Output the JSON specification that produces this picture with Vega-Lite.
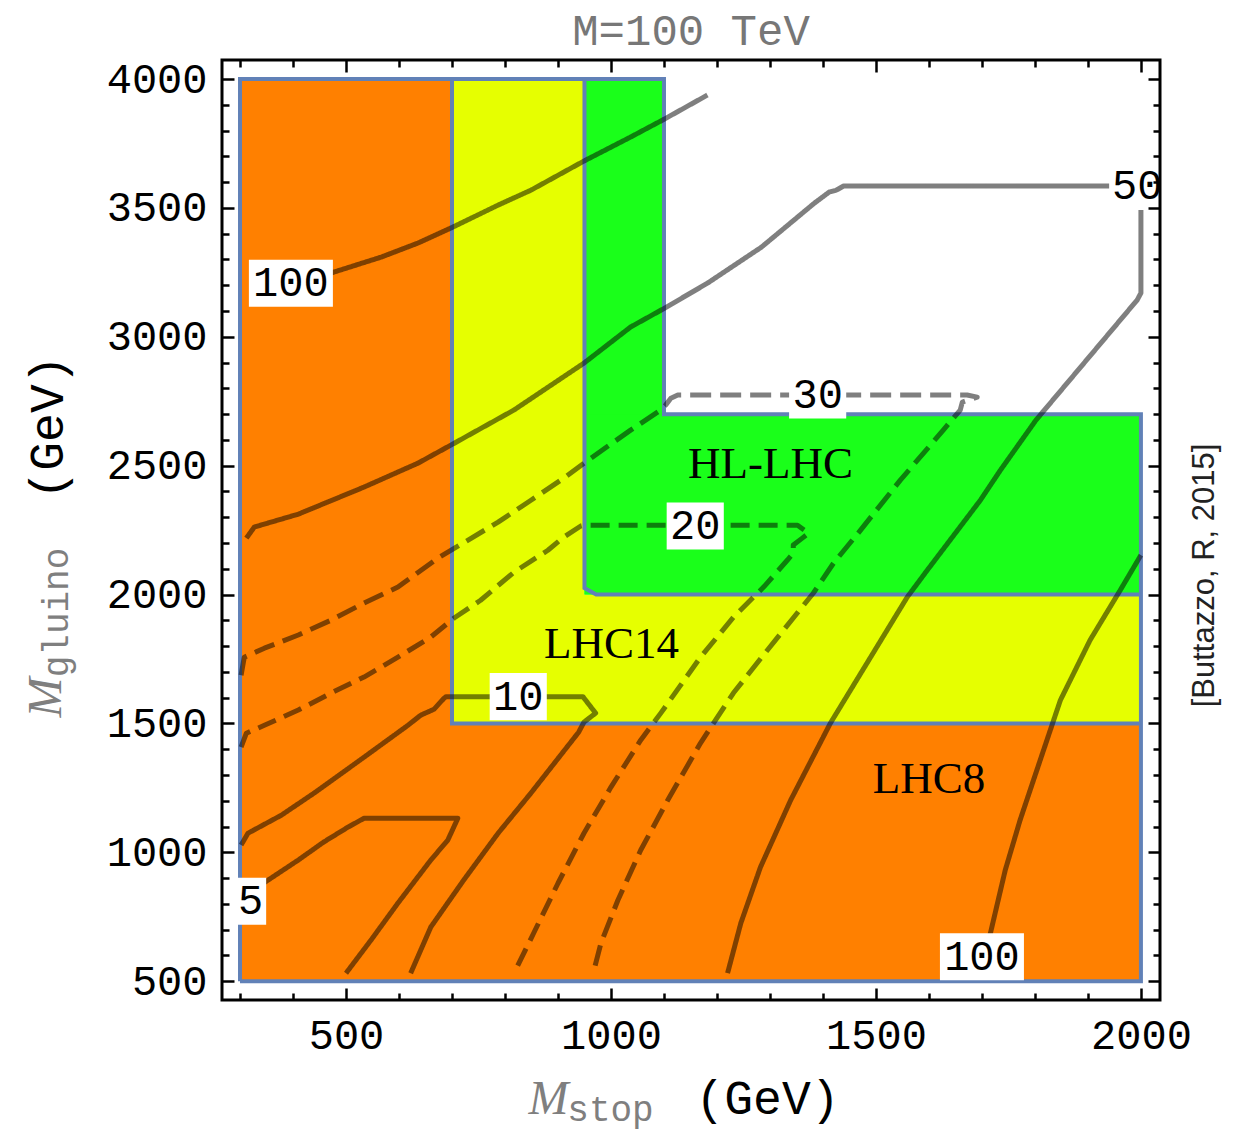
{
  "$schema": "https://vega.github.io/schema/vega-lite/v6.json",
  "width": 938,
  "height": 940,
  "autosize": {"type": "none"},
  "padding": {"left": 222, "top": 60, "right": 81, "bottom": 131},
  "background": "white",
  "title": {"text": "M=100 TeV", "font": "Liberation Mono", "fontSize": 44, "fontWeight": "normal", "color": "#777777", "anchor": "middle", "offset": 4},
  "config": {"view": {"stroke": "black", "strokeWidth": 3}},
  "datasets": {
    "regions": [
      {"r": "LHC8", "x": 300, "x2": 700, "y": 500, "y2": 4000},
      {"r": "LHC8", "x": 300, "x2": 2000, "y": 500, "y2": 1500},
      {"r": "LHC14", "x": 700, "x2": 950, "y": 1500, "y2": 4000},
      {"r": "LHC14", "x": 700, "x2": 2000, "y": 1500, "y2": 2000},
      {"r": "HL", "x": 950, "x2": 1100, "y": 2000, "y2": 4000},
      {"r": "HL", "x": 950, "x2": 2000, "y": 2000, "y2": 2700}
    ],
    "outlines": [
      {"s": "outer", "i": 1, "x": 300, "y": 500},
      {"s": "outer", "i": 2, "x": 300, "y": 4000},
      {"s": "outer", "i": 3, "x": 1100, "y": 4000},
      {"s": "outer", "i": 4, "x": 1100, "y": 2700},
      {"s": "outer", "i": 5, "x": 2000, "y": 2700},
      {"s": "outer", "i": 6, "x": 2000, "y": 500},
      {"s": "outer", "i": 7, "x": 300, "y": 500},
      {"s": "b1", "i": 1, "x": 700, "y": 4000},
      {"s": "b1", "i": 2, "x": 700, "y": 1500},
      {"s": "b1", "i": 3, "x": 2000, "y": 1500},
      {"s": "b2", "i": 1, "x": 950, "y": 4000},
      {"s": "b2", "i": 2, "x": 950, "y": 2025},
      {"s": "b2", "i": 3, "x": 972, "y": 2000},
      {"s": "b2", "i": 4, "x": 2000, "y": 2000}
    ],
    "contours": [
      {"s": "5", "d": "solid", "i": 1, "x": 344, "y": 880},
      {"s": "5", "d": "solid", "i": 2, "x": 410, "y": 970},
      {"s": "5", "d": "solid", "i": 3, "x": 458, "y": 1040},
      {"s": "5", "d": "solid", "i": 4, "x": 504, "y": 1098},
      {"s": "5", "d": "solid", "i": 5, "x": 534, "y": 1132},
      {"s": "5", "d": "solid", "i": 6, "x": 711, "y": 1132},
      {"s": "5", "d": "solid", "i": 7, "x": 692, "y": 1047},
      {"s": "5", "d": "solid", "i": 8, "x": 660, "y": 970},
      {"s": "5", "d": "solid", "i": 9, "x": 598, "y": 803},
      {"s": "5", "d": "solid", "i": 10, "x": 547, "y": 659},
      {"s": "5", "d": "solid", "i": 11, "x": 500, "y": 531},

      {"s": "10", "d": "solid", "i": 1, "x": 302, "y": 1028},
      {"s": "10", "d": "solid", "i": 2, "x": 315, "y": 1074},
      {"s": "10", "d": "solid", "i": 3, "x": 378, "y": 1144},
      {"s": "10", "d": "solid", "i": 4, "x": 440, "y": 1230},
      {"s": "10", "d": "solid", "i": 5, "x": 534, "y": 1369},
      {"s": "10", "d": "solid", "i": 6, "x": 617, "y": 1493},
      {"s": "10", "d": "solid", "i": 7, "x": 641, "y": 1532},
      {"s": "10", "d": "solid", "i": 8, "x": 666, "y": 1555},
      {"s": "10", "d": "solid", "i": 9, "x": 685, "y": 1598},
      {"s": "10", "d": "solid", "i": 10, "x": 689, "y": 1604},
      {"s": "10", "d": "solid", "i": 11, "x": 947, "y": 1604},
      {"s": "10", "d": "solid", "i": 12, "x": 971, "y": 1540},
      {"s": "10", "d": "solid", "i": 13, "x": 949, "y": 1505},
      {"s": "10", "d": "solid", "i": 14, "x": 939, "y": 1466},
      {"s": "10", "d": "solid", "i": 15, "x": 902, "y": 1369},
      {"s": "10", "d": "solid", "i": 16, "x": 849, "y": 1230},
      {"s": "10", "d": "solid", "i": 17, "x": 787, "y": 1074},
      {"s": "10", "d": "solid", "i": 18, "x": 722, "y": 892},
      {"s": "10", "d": "solid", "i": 19, "x": 660, "y": 710},
      {"s": "10", "d": "solid", "i": 20, "x": 622, "y": 531},

      {"s": "20", "d": "dash20", "i": 1, "x": 302, "y": 1408},
      {"s": "20", "d": "dash20", "i": 2, "x": 312, "y": 1462},
      {"s": "20", "d": "dash20", "i": 3, "x": 346, "y": 1493},
      {"s": "20", "d": "dash20", "i": 4, "x": 410, "y": 1552},
      {"s": "20", "d": "dash20", "i": 5, "x": 472, "y": 1618},
      {"s": "20", "d": "dash20", "i": 6, "x": 534, "y": 1680},
      {"s": "20", "d": "dash20", "i": 7, "x": 598, "y": 1757},
      {"s": "20", "d": "dash20", "i": 8, "x": 660, "y": 1835},
      {"s": "20", "d": "dash20", "i": 9, "x": 704, "y": 1909},
      {"s": "20", "d": "dash20", "i": 10, "x": 754, "y": 1978},
      {"s": "20", "d": "dash20", "i": 11, "x": 817, "y": 2087},
      {"s": "20", "d": "dash20", "i": 12, "x": 881, "y": 2172},
      {"s": "20", "d": "dash20", "i": 13, "x": 911, "y": 2223},
      {"s": "20", "d": "dash20", "i": 14, "x": 943, "y": 2266},
      {"s": "20", "d": "dash20", "i": 15, "x": 949, "y": 2269},
      {"s": "20", "d": "dash20", "i": 16, "x": 1352, "y": 2269},
      {"s": "20", "d": "dash20", "i": 17, "x": 1373, "y": 2238},
      {"s": "20", "d": "dash20", "i": 18, "x": 1361, "y": 2219},
      {"s": "20", "d": "dash20", "i": 19, "x": 1344, "y": 2192},
      {"s": "20", "d": "dash20", "i": 20, "x": 1344, "y": 2161},
      {"s": "20", "d": "dash20", "i": 21, "x": 1333, "y": 2134},
      {"s": "20", "d": "dash20", "i": 22, "x": 1288, "y": 2029},
      {"s": "20", "d": "dash20", "i": 23, "x": 1231, "y": 1912},
      {"s": "20", "d": "dash20", "i": 24, "x": 1169, "y": 1757},
      {"s": "20", "d": "dash20", "i": 25, "x": 1094, "y": 1540},
      {"s": "20", "d": "dash20", "i": 26, "x": 1056, "y": 1435},
      {"s": "20", "d": "dash20", "i": 27, "x": 1000, "y": 1253},
      {"s": "20", "d": "dash20", "i": 28, "x": 949, "y": 1074},
      {"s": "20", "d": "dash20", "i": 29, "x": 900, "y": 880},
      {"s": "20", "d": "dash20", "i": 30, "x": 854, "y": 686},
      {"s": "20", "d": "dash20", "i": 31, "x": 817, "y": 531},

      {"s": "30", "d": "dash30", "i": 1, "x": 302, "y": 1687},
      {"s": "30", "d": "dash30", "i": 2, "x": 308, "y": 1757},
      {"s": "30", "d": "dash30", "i": 3, "x": 346, "y": 1792},
      {"s": "30", "d": "dash30", "i": 4, "x": 410, "y": 1843},
      {"s": "30", "d": "dash30", "i": 5, "x": 472, "y": 1901},
      {"s": "30", "d": "dash30", "i": 6, "x": 534, "y": 1967},
      {"s": "30", "d": "dash30", "i": 7, "x": 598, "y": 2029},
      {"s": "30", "d": "dash30", "i": 8, "x": 673, "y": 2141},
      {"s": "30", "d": "dash30", "i": 9, "x": 787, "y": 2281},
      {"s": "30", "d": "dash30", "i": 10, "x": 849, "y": 2366},
      {"s": "30", "d": "dash30", "i": 11, "x": 911, "y": 2452},
      {"s": "30", "d": "dash30", "i": 12, "x": 949, "y": 2510},
      {"s": "30", "d": "dash30", "i": 13, "x": 1037, "y": 2638},
      {"s": "30", "d": "dash30", "i": 14, "x": 1094, "y": 2716},
      {"s": "30", "d": "dash30", "i": 15, "x": 1103, "y": 2735},
      {"s": "30", "d": "dash30", "i": 16, "x": 1113, "y": 2762},
      {"s": "30", "d": "dash30", "i": 17, "x": 1126, "y": 2774},
      {"s": "30", "d": "dash30", "i": 18, "x": 1672, "y": 2774},
      {"s": "30", "d": "dash30", "i": 19, "x": 1691, "y": 2766},
      {"s": "30", "d": "dash30", "i": 20, "x": 1663, "y": 2747},
      {"s": "30", "d": "dash30", "i": 21, "x": 1659, "y": 2716},
      {"s": "30", "d": "dash30", "i": 22, "x": 1627, "y": 2638},
      {"s": "30", "d": "dash30", "i": 23, "x": 1546, "y": 2444},
      {"s": "30", "d": "dash30", "i": 24, "x": 1471, "y": 2250},
      {"s": "30", "d": "dash30", "i": 25, "x": 1420, "y": 2122},
      {"s": "30", "d": "dash30", "i": 26, "x": 1382, "y": 2006},
      {"s": "30", "d": "dash30", "i": 27, "x": 1295, "y": 1784},
      {"s": "30", "d": "dash30", "i": 28, "x": 1231, "y": 1618},
      {"s": "30", "d": "dash30", "i": 29, "x": 1169, "y": 1424},
      {"s": "30", "d": "dash30", "i": 30, "x": 1107, "y": 1202},
      {"s": "30", "d": "dash30", "i": 31, "x": 1056, "y": 1008},
      {"s": "30", "d": "dash30", "i": 32, "x": 1013, "y": 814},
      {"s": "30", "d": "dash30", "i": 33, "x": 981, "y": 647},
      {"s": "30", "d": "dash30", "i": 34, "x": 967, "y": 535},

      {"s": "50a", "d": "solid", "i": 1, "x": 312, "y": 2219},
      {"s": "50a", "d": "solid", "i": 2, "x": 327, "y": 2262},
      {"s": "50a", "d": "solid", "i": 3, "x": 410, "y": 2312},
      {"s": "50a", "d": "solid", "i": 4, "x": 534, "y": 2417},
      {"s": "50a", "d": "solid", "i": 5, "x": 636, "y": 2510},
      {"s": "50a", "d": "solid", "i": 6, "x": 698, "y": 2580},
      {"s": "50a", "d": "solid", "i": 7, "x": 817, "y": 2716},
      {"s": "50a", "d": "solid", "i": 8, "x": 949, "y": 2898},
      {"s": "50a", "d": "solid", "i": 9, "x": 1037, "y": 3038},
      {"s": "50a", "d": "solid", "i": 10, "x": 1101, "y": 3111},
      {"s": "50a", "d": "solid", "i": 11, "x": 1182, "y": 3208},
      {"s": "50a", "d": "solid", "i": 12, "x": 1284, "y": 3348},
      {"s": "50a", "d": "solid", "i": 13, "x": 1384, "y": 3519},
      {"s": "50a", "d": "solid", "i": 14, "x": 1412, "y": 3562},
      {"s": "50a", "d": "solid", "i": 15, "x": 1425, "y": 3569},
      {"s": "50a", "d": "solid", "i": 16, "x": 1439, "y": 3585},
      {"s": "50a", "d": "solid", "i": 17, "x": 1940, "y": 3585},

      {"s": "50b", "d": "solid", "i": 1, "x": 2000, "y": 3492},
      {"s": "50b", "d": "solid", "i": 2, "x": 2000, "y": 3170},
      {"s": "50b", "d": "solid", "i": 3, "x": 1993, "y": 3143},
      {"s": "50b", "d": "solid", "i": 4, "x": 1802, "y": 2677},
      {"s": "50b", "d": "solid", "i": 5, "x": 1735, "y": 2483},
      {"s": "50b", "d": "solid", "i": 6, "x": 1697, "y": 2366},
      {"s": "50b", "d": "solid", "i": 7, "x": 1597, "y": 2095},
      {"s": "50b", "d": "solid", "i": 8, "x": 1559, "y": 1990},
      {"s": "50b", "d": "solid", "i": 9, "x": 1414, "y": 1501},
      {"s": "50b", "d": "solid", "i": 10, "x": 1339, "y": 1202},
      {"s": "50b", "d": "solid", "i": 11, "x": 1282, "y": 942},
      {"s": "50b", "d": "solid", "i": 12, "x": 1245, "y": 725},
      {"s": "50b", "d": "solid", "i": 13, "x": 1220, "y": 531},

      {"s": "100a", "d": "solid", "i": 1, "x": 460, "y": 3240},
      {"s": "100a", "d": "solid", "i": 2, "x": 566, "y": 3309},
      {"s": "100a", "d": "solid", "i": 3, "x": 636, "y": 3364},
      {"s": "100a", "d": "solid", "i": 4, "x": 702, "y": 3426},
      {"s": "100a", "d": "solid", "i": 5, "x": 787, "y": 3511},
      {"s": "100a", "d": "solid", "i": 6, "x": 849, "y": 3569},
      {"s": "100a", "d": "solid", "i": 7, "x": 949, "y": 3682},
      {"s": "100a", "d": "solid", "i": 8, "x": 1037, "y": 3775},
      {"s": "100a", "d": "solid", "i": 9, "x": 1101, "y": 3845},
      {"s": "100a", "d": "solid", "i": 10, "x": 1182, "y": 3938},

      {"s": "100b", "d": "solid", "i": 1, "x": 2000, "y": 2153},
      {"s": "100b", "d": "solid", "i": 2, "x": 1961, "y": 2017},
      {"s": "100b", "d": "solid", "i": 3, "x": 1904, "y": 1823},
      {"s": "100b", "d": "solid", "i": 4, "x": 1848, "y": 1590},
      {"s": "100b", "d": "solid", "i": 5, "x": 1810, "y": 1358},
      {"s": "100b", "d": "solid", "i": 6, "x": 1772, "y": 1125},
      {"s": "100b", "d": "solid", "i": 7, "x": 1744, "y": 931},
      {"s": "100b", "d": "solid", "i": 8, "x": 1716, "y": 686},
      {"s": "100b", "d": "solid", "i": 9, "x": 1705, "y": 600}
    ],
    "labels": [
      {"label": "100", "x": 396, "y": 3208},
      {"label": "5", "x": 320, "y": 810},
      {"label": "10", "x": 825, "y": 1604},
      {"label": "20", "x": 1159, "y": 2266},
      {"label": "30", "x": 1390, "y": 2774},
      {"label": "50", "x": 1993, "y": 3585},
      {"label": "100", "x": 1700, "y": 595}
    ],
    "regionLabels": [
      {"t": "HL-LHC", "x": 1301, "y": 2452},
      {"t": "LHC14", "x": 1001, "y": 1753},
      {"t": "LHC8", "x": 1600, "y": 1230}
    ]
  },
  "resolve": {"axis": {"x": "independent", "y": "independent"}},
  "layer": [
    {
      "data": {"name": "regions"},
      "mark": {"type": "rect", "strokeWidth": 0},
      "encoding": {
        "x": {"field": "x", "type": "quantitative", "scale": {"domain": [266, 2036], "nice": false, "zero": false},
          "axis": {"orient": "bottom", "values": [300,400,500,600,700,800,900,1000,1100,1200,1300,1400,1500,1600,1700,1800,1900,2000], "format": "d",
            "labelExpr": "datum.value % 500 === 0 ? datum.label : ''",
            "tickSize": {"condition": {"test": "datum.value % 500 === 0", "value": -12}, "value": -7},
            "tickWidth": 2.5, "tickColor": "black", "domain": false, "grid": false,
            "labelFont": "Liberation Mono", "labelFontSize": 42, "labelColor": "black", "labelPadding": 27, "labelFlush": false, "labelOverlap": false,
            "title": "(GeV)", "titleFont": "Liberation Mono", "titleFontSize": 48, "titleFontWeight": "normal", "titleColor": "black",
            "titleX": 545, "titleY": 113, "titleAlign": "center", "titleBaseline": "alphabetic", "zindex": 1}},
        "x2": {"field": "x2"},
        "y": {"field": "y", "type": "quantitative", "scale": {"domain": [427, 4074], "nice": false, "zero": false},
          "axis": {"orient": "left", "values": [500,600,700,800,900,1000,1100,1200,1300,1400,1500,1600,1700,1800,1900,2000,2100,2200,2300,2400,2500,2600,2700,2800,2900,3000,3100,3200,3300,3400,3500,3600,3700,3800,3900,4000], "format": "d",
            "labelExpr": "datum.value % 500 === 0 ? datum.label : ''",
            "tickSize": {"condition": {"test": "datum.value % 500 === 0", "value": -12}, "value": -7},
            "tickWidth": 2.5, "tickColor": "black", "domain": false, "grid": false,
            "labelFont": "Liberation Mono", "labelFontSize": 42, "labelColor": "black", "labelPadding": 27, "labelFlush": false, "labelOverlap": false,
            "title": "(GeV)", "titleFont": "Liberation Mono", "titleFontSize": 48, "titleFontWeight": "normal", "titleColor": "black",
            "titleAngle": 270, "titleX": -160, "titleY": 367, "titleAlign": "center", "titleBaseline": "alphabetic", "zindex": 1}},
        "y2": {"field": "y2"},
        "color": {"field": "r", "type": "nominal", "scale": {"domain": ["LHC8", "LHC14", "HL"], "range": ["#ff8000", "#e6ff00", "#1aff1a"]}, "legend": null}
      }
    },
    {
      "data": {"name": "outlines"},
      "mark": {"type": "line", "color": "#6181b7", "strokeWidth": 4, "strokeJoin": "miter"},
      "encoding": {
        "x": {"field": "x", "type": "quantitative", "scale": {"domain": [266, 2036], "nice": false, "zero": false},
          "axis": {"orient": "top", "values": [300,400,500,600,700,800,900,1000,1100,1200,1300,1400,1500,1600,1700,1800,1900,2000],
            "labels": false, "tickSize": {"condition": {"test": "datum.value % 500 === 0", "value": -12}, "value": -7},
            "tickWidth": 2.5, "tickColor": "black", "domain": false, "grid": false, "title": null, "zindex": 1}},
        "y": {"field": "y", "type": "quantitative", "scale": {"domain": [427, 4074], "nice": false, "zero": false},
          "axis": {"orient": "right", "values": [500,600,700,800,900,1000,1100,1200,1300,1400,1500,1600,1700,1800,1900,2000,2100,2200,2300,2400,2500,2600,2700,2800,2900,3000,3100,3200,3300,3400,3500,3600,3700,3800,3900,4000],
            "labels": false, "tickSize": {"condition": {"test": "datum.value % 500 === 0", "value": -12}, "value": -7},
            "tickWidth": 2.5, "tickColor": "black", "domain": false, "grid": false,
            "title": "[Buttazzo, R, 2015]", "titleFont": "Liberation Sans", "titleFontSize": 31, "titleFontWeight": "normal", "titleColor": "#222222",
            "titleAngle": 270, "titleX": 53, "titleY": 515, "titleAlign": "center", "titleBaseline": "alphabetic", "zindex": 1}},
        "detail": {"field": "s"},
        "order": {"field": "i", "type": "quantitative"}
      }
    },
    {
      "data": {"name": "contours"},
      "mark": {"type": "line", "color": "black", "strokeOpacity": 0.5, "strokeWidth": 5, "strokeJoin": "round", "strokeCap": "butt"},
      "encoding": {
        "x": {"field": "x", "type": "quantitative", "scale": {"domain": [266, 2036], "nice": false, "zero": false},
          "axis": {"orient": "bottom", "ticks": false, "labels": false, "domain": false, "grid": false,
            "title": "M", "titleFont": "Liberation Serif", "titleFontStyle": "italic", "titleFontWeight": "normal", "titleFontSize": 48, "titleColor": "#7f7f7f",
            "titleX": 326, "titleY": 113, "titleAlign": "center", "titleBaseline": "alphabetic"}},
        "y": {"field": "y", "type": "quantitative", "scale": {"domain": [427, 4074], "nice": false, "zero": false},
          "axis": {"orient": "left", "ticks": false, "labels": false, "domain": false, "grid": false,
            "title": "M", "titleFont": "Liberation Serif", "titleFontStyle": "italic", "titleFontWeight": "normal", "titleFontSize": 48, "titleColor": "#7f7f7f",
            "titleAngle": 270, "titleX": -162, "titleY": 637, "titleAlign": "center", "titleBaseline": "alphabetic"}},
        "detail": {"field": "s"},
        "order": {"field": "i", "type": "quantitative"},
        "strokeDash": {"field": "d", "type": "nominal", "scale": {"domain": ["solid", "dash20", "dash30"], "range": [[1, 0], [19, 9], [21, 9]]}, "legend": null}
      }
    },
    {
      "data": {"name": "labels"},
      "transform": [{"filter": "datum.label != '50'"}],
      "mark": {"type": "point", "filled": true, "color": "white", "opacity": 1, "strokeWidth": 0, "size": 7056},
      "encoding": {
        "x": {"field": "x", "type": "quantitative", "scale": {"domain": [266, 2036], "nice": false, "zero": false},
          "axis": {"orient": "bottom", "ticks": false, "labels": false, "domain": false, "grid": false,
            "title": "stop", "titleFont": "Liberation Mono", "titleFontWeight": "normal", "titleFontSize": 36, "titleColor": "#7f7f7f",
            "titleX": 388, "titleY": 120, "titleAlign": "center", "titleBaseline": "alphabetic"}},
        "y": {"field": "y", "type": "quantitative", "scale": {"domain": [427, 4074], "nice": false, "zero": false},
          "axis": {"orient": "left", "ticks": false, "labels": false, "domain": false, "grid": false,
            "title": "gluino", "titleFont": "Liberation Mono", "titleFontWeight": "normal", "titleFontSize": 36, "titleColor": "#7f7f7f",
            "titleAngle": 270, "titleX": -155, "titleY": 552, "titleAlign": "center", "titleBaseline": "alphabetic"}},
        "shape": {"field": "label", "type": "nominal", "legend": null,
          "scale": {"domain": ["5", "10", "20", "30", "100"],
            "range": ["M-0.37,-0.56L0.37,-0.56L0.37,0.56L-0.37,0.56Z", "M-0.68,-0.56L0.68,-0.56L0.68,0.56L-0.68,0.56Z", "M-0.68,-0.56L0.68,-0.56L0.68,0.56L-0.68,0.56Z", "M-0.68,-0.56L0.68,-0.56L0.68,0.56L-0.68,0.56Z", "M-1,-0.56L1,-0.56L1,0.56L-1,0.56Z"]}}
      }
    },
    {
      "data": {"name": "labels"},
      "mark": {"type": "text", "font": "Liberation Mono", "fontSize": 42, "color": "black", "align": "center", "baseline": "middle"},
      "encoding": {
        "x": {"field": "x", "type": "quantitative", "scale": {"domain": [266, 2036], "nice": false, "zero": false}, "axis": null},
        "y": {"field": "y", "type": "quantitative", "scale": {"domain": [427, 4074], "nice": false, "zero": false}, "axis": null},
        "text": {"field": "label"}
      }
    },
    {
      "data": {"name": "regionLabels"},
      "mark": {"type": "text", "font": "Liberation Serif", "fontSize": 45, "color": "black", "align": "center", "baseline": "alphabetic"},
      "encoding": {
        "x": {"field": "x", "type": "quantitative", "scale": {"domain": [266, 2036], "nice": false, "zero": false}, "axis": null},
        "y": {"field": "y", "type": "quantitative", "scale": {"domain": [427, 4074], "nice": false, "zero": false}, "axis": null},
        "text": {"field": "t"}
      }
    }
  ]
}
